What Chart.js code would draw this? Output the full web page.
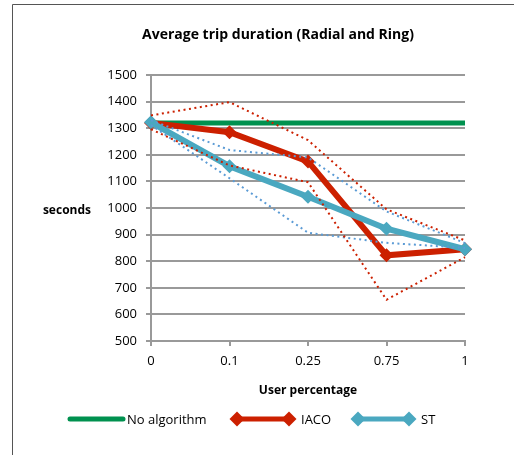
<!DOCTYPE html>
<html>
<head>
<meta charset="utf-8">
<script src="https://cdn.jsdelivr.net/npm/chart.js@4/dist/chart.umd.min.js"></script>
<style>
  html, body { margin: 0; padding: 0; background: #fff; }
  #wrap { position: relative; width: 514px; height: 455px; }
</style>
</head>
<body>
<div id="wrap"><canvas id="chart" width="514" height="455"></canvas></div>
<script>
const categories = ['0', '0.1', '0.25', '0.75', '1'];
const noAlgorithm = [1320, 1320, 1320, 1320, 1320];
const iaco = [1320, 1285, 1175, 822, 845];
const st = [1322, 1157, 1042, 922, 845];
const iacoUpper = [1348, 1398, 1255, 995, 878];
const iacoLower = [1296, 1160, 1097, 655, 815];
const stUpper = [1330, 1218, 1190, 987, 868];
const stLower = [1312, 1112, 907, 869, 850];
const yTicks = [500, 600, 700, 800, 900, 1000, 1100, 1200, 1300, 1400, 1500];

const FONT = '"Open Sans", "Liberation Sans", sans-serif';
const GREEN = '#00914f';
const RED = '#cc2000';
const TEAL = '#4aa8c0';
const DOT_BLUE = '#5b9bd5';
const GRID = '#999999';

function diamond(ctx, x, y, r, color) {
    ctx.fillStyle = color;
    ctx.beginPath();
    ctx.moveTo(x, y - r);
    ctx.lineTo(x + r, y);
    ctx.lineTo(x, y + r);
    ctx.lineTo(x - r, y);
    ctx.closePath();
    ctx.fill();
}

const decor = {
    id: 'decor',
    beforeDraw(chart) {
        const ctx = chart.ctx;
        ctx.save();
        ctx.strokeStyle = '#555';
        ctx.lineWidth = 1;
        ctx.beginPath();
        ctx.moveTo(12.5, 455);
        ctx.lineTo(12.5, 4.5);
        ctx.lineTo(514, 4.5);
        ctx.stroke();
        ctx.restore();
    },
    afterDraw(chart) {
        const ctx = chart.ctx;
        const area = chart.chartArea;
        ctx.save();
        ctx.fillStyle = '#000';
        ctx.textBaseline = 'middle';

        ctx.font = 'bold 14px ' + FONT;
        ctx.textAlign = 'center';
        ctx.fillText('Average trip duration (Radial and Ring)', 278, 35);

        ctx.font = 'bold 12px ' + FONT;
        ctx.textAlign = 'right';
        ctx.fillText('seconds', 91, 211);

        ctx.textAlign = 'center';
        ctx.fillText('User percentage', (area.left + area.right) / 2, 391);

        // legend
        const ly = 419;
        ctx.lineCap = 'round';
        ctx.lineWidth = 5;
        ctx.strokeStyle = GREEN;
        ctx.beginPath();
        ctx.moveTo(70, ly);
        ctx.lineTo(123, ly);
        ctx.stroke();

        ctx.lineCap = 'butt';
        ctx.strokeStyle = RED;
        ctx.beginPath();
        ctx.moveTo(237, ly);
        ctx.lineTo(289, ly);
        ctx.stroke();
        diamond(ctx, 237, ly, 7.5, RED);
        diamond(ctx, 289, ly, 7.5, RED);

        ctx.strokeStyle = TEAL;
        ctx.beginPath();
        ctx.moveTo(358, ly);
        ctx.lineTo(409, ly);
        ctx.stroke();
        diamond(ctx, 358, ly, 7.5, TEAL);
        diamond(ctx, 409, ly, 7.5, TEAL);

        ctx.font = '13px ' + FONT;
        ctx.textAlign = 'left';
        ctx.fillStyle = '#000';
        ctx.fillText('No algorithm', 127, ly + 1);
        ctx.fillText('IACO', 301, ly + 1);
        ctx.fillText('ST', 421, ly + 1);
        ctx.restore();
    }
};

const dotted = (data, color) => ({
    data: data,
    borderColor: color,
    borderWidth: 2,
    borderDash: [2, 3.5],
    pointRadius: 0,
    fill: false,
    tension: 0,
    order: 0
});

new Chart(document.getElementById('chart'), {
    type: 'line',
    data: {
        labels: categories,
        datasets: [
            {
                label: 'No algorithm',
                data: noAlgorithm,
                borderColor: GREEN,
                borderWidth: 5,
                pointRadius: 0,
                order: 3
            },
            {
                label: 'IACO',
                data: iaco,
                borderColor: RED,
                backgroundColor: RED,
                borderWidth: 6,
                pointStyle: 'rectRot',
                pointRadius: 7,
                pointBorderWidth: 0,
                order: 2
            },
            {
                label: 'ST',
                data: st,
                borderColor: TEAL,
                backgroundColor: TEAL,
                borderWidth: 6,
                pointStyle: 'rectRot',
                pointRadius: 7,
                pointBorderWidth: 0,
                order: 1
            },
            dotted(iacoUpper, RED),
            dotted(iacoLower, RED),
            dotted(stUpper, DOT_BLUE),
            dotted(stLower, DOT_BLUE)
        ]
    },
    options: {
        responsive: false,
        animation: false,
        devicePixelRatio: 1,
        layout: { padding: { left: 0, top: 75, right: 49, bottom: 0 } },
        plugins: {
            legend: { display: false },
            title: { display: false },
            tooltip: { enabled: false }
        },
        scales: {
            x: {
                offset: false,
                afterFit: s => { s.height = 114; },
                grid: {
                    display: true,
                    drawOnChartArea: false,
                    color: GRID,
                    lineWidth: 2,
                    tickLength: 5
                },
                border: { color: GRID, width: 2 },
                ticks: {
                    color: '#000',
                    font: { family: FONT, size: 13 },
                    padding: 7,
                    maxRotation: 0
                }
            },
            y: {
                min: 500,
                max: 1500,
                afterFit: s => { s.width = 151; },
                afterBuildTicks: s => { s.ticks = yTicks.map(v => ({ value: v })); },
                grid: {
                    color: GRID,
                    lineWidth: 2,
                    tickLength: 5
                },
                border: { color: GRID, width: 2 },
                ticks: {
                    color: '#000',
                    font: { family: FONT, size: 13 },
                    padding: 9,
                    callback: v => String(v)
                }
            }
        }
    },
    plugins: [decor]
});
</script>
</body>
</html>
